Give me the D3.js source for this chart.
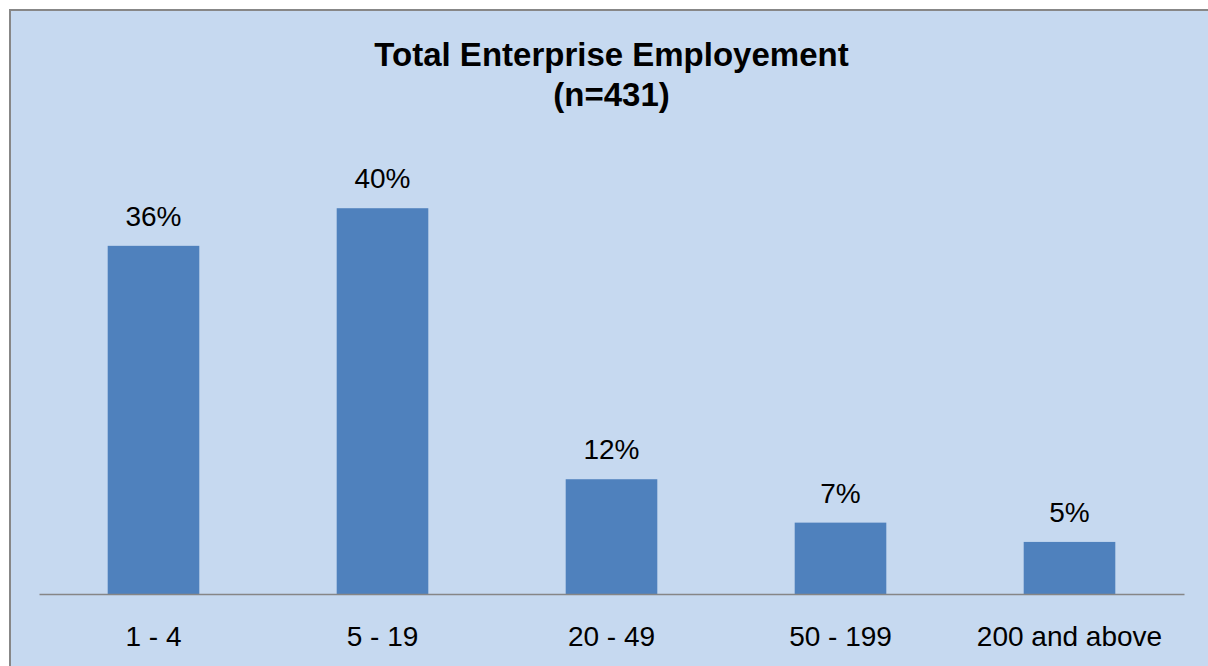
<!DOCTYPE html>
<html>
<head>
<meta charset="utf-8">
<script src="https://cdn.jsdelivr.net/npm/d3@7/dist/d3.min.js"></script>
<style>
  html, body { margin: 0; padding: 0; background: #ffffff; }
  svg { display: block; font-family: "Liberation Sans", Arial, sans-serif; }
</style>
</head>
<body>
<div id="chart"></div>
<script>
/** Chart data */
const categories = ["1 - 4", "5 - 19", "20 - 49", "50 - 199", "200 and above"];
const shares = [36.1, 40.0, 11.9, 7.4, 5.4];
const titleLines = ["Total Enterprise Employement", "(n=431)"];

/** Graph configs */
const width = 1208;
const height = 666;
const plotLeft = 39;
const plotRight = 1184;
const baseline = 594;
const plotTop = 160;

const svg = d3
  .select("#chart")
  .append("svg")
  .attr("width", width)
  .attr("height", height);

/** Chart area background */
svg
  .append("rect")
  .attr("x", 10)
  .attr("y", 10)
  .attr("width", 1220)
  .attr("height", 700)
  .style("fill", "#c6d9f0")
  .style("stroke", "#878787")
  .style("stroke-width", 2);

/** Title */
svg
  .append("text")
  .attr("text-anchor", "middle")
  .style("font-size", "33px")
  .style("font-weight", "bold")
  .style("fill", "#000")
  .selectAll("tspan")
  .data(titleLines)
  .enter()
  .append("tspan")
  .attr("x", (plotLeft + plotRight) / 2)
  .attr("y", (_, i) => 66 + i * 40)
  .text((d) => d);

const x = d3
  .scaleBand()
  .domain(categories)
  .range([plotLeft, plotRight])
  .paddingInner(0.6)
  .paddingOuter(0.3);

const y = d3.scaleLinear().domain([0, 45]).range([baseline, plotTop]);

/** Bars */
svg
  .selectAll("rect.bar")
  .data(shares)
  .enter()
  .append("rect")
  .attr("class", "bar")
  .attr("x", (_, i) => x(categories[i]))
  .attr("y", (d) => y(d))
  .attr("width", x.bandwidth())
  .attr("height", (d) => y(0) - y(d))
  .style("fill", "#4f81bd");

/** Value labels */
svg
  .selectAll("text.value")
  .data(shares)
  .enter()
  .append("text")
  .attr("class", "value")
  .attr("text-anchor", "middle")
  .attr("x", (_, i) => x(categories[i]) + x.bandwidth() / 2)
  .attr("y", (d) => y(d) - 20)
  .style("font-size", "28px")
  .style("fill", "#000")
  .text((d) => `${Math.round(d)}%`);

/** Category axis */
const axis = svg
  .append("g")
  .attr("transform", `translate(0, ${baseline})`)
  .call(d3.axisBottom(x).tickSize(0).tickPadding(32));

axis.select(".domain").style("stroke", "#868686").style("stroke-width", 1.5);
axis
  .selectAll("text")
  .style("font-size", "28px")
  .style("font-family", "\"Liberation Sans\", Arial, sans-serif")
  .style("fill", "#000");
</script>
</body>
</html>
